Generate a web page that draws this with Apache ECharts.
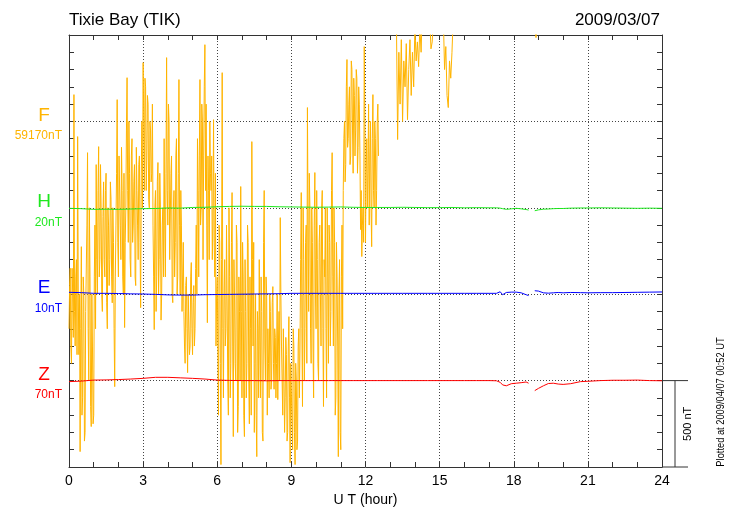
<!DOCTYPE html>
<html><head><meta charset="utf-8">
<script src="https://cdn.jsdelivr.net/npm/echarts@6/dist/echarts.min.js"></script>
<style>html,body{margin:0;padding:0;background:#fff}#c{width:730px;height:520px}</style>
</head><body><div id="c"></div>
<script>
// ---- texts ----
const stationTitle = 'Tixie Bay (TIK)';
const dateLabel = '2009/03/07';
const plotNote = 'Plotted at 2009/04/07 00:52 UT';
const scaleLabel = '500 nT';
const xAxisName = 'U T (hour)';
const compNames = ['F', 'H', 'E', 'Z'];
const compBaseLabels = ['59170nT', '20nT', '10nT', '70nT'];
const compColors = ['#ffb400', '#1ee81e', '#0000ff', '#ff0000'];
// baseline of each component trace, in chart units (nT of the 500 nT scale bar)
const compOffsets = [1500, 1000, 500, 0];

// ---- F trace (chart units; F baseline = 1500), sampled every fStep hours ----
const fStep = 0.05;
const fSeg0Start = 0;
const fSeg0 = [300,650,100,500,1655,200,700,1412,
150,-411,775,-100,500,-300,
400,1319,0,600,-266,200,-200,900,
1250,500,1354,700,1000,400,1150,600,1200,300,900,700,1050,450,800,-35,
900,1626,600,
1300,700,1100,500,307,1000,1753,800,1200,600,1400,900,1250,550,1100,700,1300,
422,1500,1840,1100,1700,1300,1600,1000,1450,1200,
900,295,1100,600,1262,700,1000,500,
1000,1400,600,1869,900,1500,700,1300,451,1100,800,1400,600,1742,500,900,400,
400,100,600,46,500,200,683,150,550,300,
900,1400,600,1742,1000,1500,
1300,1944,1600,335,1100,1500,
1100,700,1510,600,200,
600,-200,800,-486,1782,-100,700,
300,900,-200,600,100,1088,-324,500,0,800,-150,400,
1123,-100,600,-324,400,100,800,-250,300,1383,
200,-300,500,-440,300,700,-100,400,-350,1100,0,500,
300,-100,400,0,544,-50,250,100,-110,400,
943,200,-200,300,-100,150,-300,370,-475,100,-400,200,-486,0,-350,300,
200,1088,-150,700,300,900,
1580,400,1000,100,800,-100,1204,300,700,0,900,200,1100,-150,600,300,1000,100,800,400,
1319,200,800,-100,600,-440,700,-400,900,
1100,1500,1250,1858,1400,1700,1300,1800,1200,1650,1450,1750,1350,1600,
874,718,1000,
1933,800,1400,
1200,900,1500,775,1655,1000,1400,1100,1600];
// F samples half a step after each fSeg0 sample
const fSeg0Mid = [550,200,650,250,400,600,150,500,
500,300,-200,600,-350,400,
900,300,1000,-150,500,-250,600,300,
700,1100,600,1250,500,950,700,1100,450,1000,550,1150,600,1000,300,600,
1200,800,1300,
900,1350,600,1200,800,1450,1100,1500,700,1300,800,1150,600,1350,900,1250,800,
1200,1000,1500,1750,1100,1650,1050,1500,1150,1600,
600,1000,400,1150,500,1200,350,900,
600,900,1200,1100,1600,700,1200,500,1000,600,1300,500,1200,900,1100,400,800,
200,550,300,500,150,600,300,450,200,650,
500,1100,1300,900,1600,700,
1700,1100,900,1300,700,1200,
1300,900,800,1200,500,
200,900,100,700,300,500,200,
900,0,1000,-100,800,200,700,100,900,-300,600,0,
400,800,-200,700,-100,900,0,600,-200,700,
800,100,-200,400,-100,200,600,-300,800,200,600,-200,
100,500,-50,450,100,300,-100,500,200,0,
500,0,300,-300,250,-350,200,-100,100,-250,300,-300,100,-400,200,-100,
700,300,1000,0,800,100,
900,1200,300,1000,200,900,500,1100,100,800,500,1000,300,700,1000,-100,600,900,200,1100,
600,1000,-200,800,200,500,-300,600,300,
1400,1150,1700,1350,1600,1250,1850,1450,1750,1300,1800,1200,1700,1300,
1100,900,800,
1500,1200,1000,
1600,1300,1000,1400,1100,1500,900,1500,1300];
const fSeg1Start = 13.25;
const fSeg1 = [2100,1395,1900,1600,1973,1500,1850,1700,1950,1510,1800,1973,1650,1900,1700,2050,1850,1960,1817,2050,1900,2150];
const fSeg2Start = 14.6;
const fSeg2 = [2100,1920,1960,2100];
const fSeg3Start = 15.15;
const fSeg3 = [2100,1800,1933,1650,1580,1850,1750,1900,2100];
const fSeg4Start = 18.85;
const fSeg4 = [2100,1985,2100];

// ---- H, E, Z traces: deviation (chart units) from their baselines ----
const compHours = [0,0.5,1,1.5,2,2.5,3,3.5,4,4.5,5,5.5,6,6.5,7,7.5,8,8.5,9,9.5,10,10.5,11,11.5,12,12.5,13,13.5,14,14.5,15,15.5,16,16.5,17,
17.3,17.45,17.55,17.7,17.9,18.1,18.3,18.5,18.6,18.7,18.85,19.0,19.2,19.4,19.6,19.8,20.0,20.3,20.7,21,21.5,22,22.5,23,23.5,24];
const hDev = [-3,-5,-9,-8,-9,-7,-5,-4,-1,-2,2,3,6,8,9,8,8,6,5,4,3,4,5,3,2,2,2,3,2,1,1,2,0,1,0,
0,-2,-5,-9,-6,-3,-6,-10,-13,null,-17,-12,-8,-7,-5,-4,-4,-2,-1,-1,0,-1,-2,-3,-2,-3];
const eDev = [11,9,5,5,4,2,1,-1,-4,-5,-5,-3,-2,-1,0,1,2,3,5,5,5,5,5,5,5,5,5,5,5,5,5,5,5,5,5,
5,14,-3,10,12,12,8,-3,-8,null,20,18,8,6,8,10,8,10,9,8,9,9,10,11,12,13];
const zDev = [-6,-3,3,4,6,9,13,19,19,16,13,9,3,1,0,0,-1,0,0,0,0,0,0,0,0,0,0,0,0,0,0,0,0,0,0,
-1,-10,-25,-30,-18,-15,-12,-8,-15,null,-58,-45,-30,-17,-15,-20,-22,-18,-6,-4,0,2,2,3,0,-1];

const fontFam = '"Liberation Sans", Arial, Helvetica, sans-serif';

function seg(start, vals) {
  return vals.map((v, i) => [+(start + i * fStep).toFixed(3), v]);
}
function segWithMid(start, vals, mids) {
  const out = [];
  vals.forEach((v, i) => {
    out.push([+(start + i * fStep).toFixed(4), v]);
    out.push([+(start + (i + 0.5) * fStep).toFixed(4), mids[i]]);
  });
  return out;
}
const fData = [].concat(
  segWithMid(fSeg0Start, fSeg0, fSeg0Mid), [[12.6, '-']],
  seg(fSeg1Start, fSeg1), [[14.4, '-']],
  seg(fSeg2Start, fSeg2), [[14.9, '-']],
  seg(fSeg3Start, fSeg3), [[15.8, '-']],
  seg(fSeg4Start, fSeg4)
);
function compData(dev, off) {
  return compHours.map((h, i) => [h, dev[i] === null ? '-' : off + dev[i]]);
}

const frameColor = '#333';
const gridLine = { show: true, lineStyle: { color: '#444', type: [1, 2], width: 1 } };

function xAx(pos, labels) {
  return {
    type: 'value', min: 0, max: 24, interval: 3, position: pos,
    axisLine: { show: true, onZero: false, lineStyle: { color: frameColor, width: 1 } },
    axisTick: { show: true, inside: true, length: 5, lineStyle: { color: frameColor } },
    minorTick: { show: true, splitNumber: 3, length: 5, lineStyle: { color: frameColor } },
    axisLabel: { show: labels, color: '#000', fontSize: 14, fontFamily: fontFam, margin: 7 },
    splitLine: labels ? gridLine : { show: false },
    name: labels ? xAxisName : '', nameLocation: 'middle', nameGap: 23,
    nameTextStyle: { color: '#000', fontSize: 14, fontFamily: fontFam }
  };
}
function yAx(pos, grid) {
  return {
    type: 'value', min: -500, max: 2000, interval: 500, position: pos,
    axisLine: { show: true, onZero: false, lineStyle: { color: frameColor, width: 1 } },
    axisTick: { show: true, inside: true, length: 5, lineStyle: { color: frameColor } },
    minorTick: { show: true, splitNumber: 5, length: 5, lineStyle: { color: frameColor } },
    axisLabel: { show: false },
    splitLine: grid ? gridLine : { show: false }
  };
}

const chart = echarts.init(document.getElementById('c'), null, { renderer: 'canvas' });
const series = [{
  type: 'line', data: fData, showSymbol: false, symbol: 'none', z: 2,
  lineStyle: { color: compColors[0], width: 1 }, clip: true, animation: false
}];
const devs = [hDev, eDev, zDev];
for (let k = 0; k < 3; k++) {
  series.push({
    type: 'line', data: compData(devs[k], compOffsets[k + 1]), showSymbol: false, symbol: 'none', z: 3,
    lineStyle: { color: compColors[k + 1], width: 1 }, clip: true, animation: false
  });
}

chart.setOption({
  backgroundColor: '#fff',
  animation: false,
  grid: { left: 69, right: 68, top: 35, bottom: 53 },
  title: [
    { text: stationTitle, left: 69, top: 12, padding: 0,
      textStyle: { fontSize: 17, fontWeight: 'normal', color: '#000', fontFamily: fontFam } },
    { text: dateLabel, right: 70, top: 12, padding: 0,
      textStyle: { fontSize: 17, fontWeight: 'normal', color: '#000', fontFamily: fontFam } }
  ],
  xAxis: [xAx('bottom', true), xAx('top', false)],
  yAxis: [yAx('left', true), yAx('right', false)],
  series: series
});

// decorations placed through the chart's own scales
const [xr, y0] = chart.convertToPixel({ gridIndex: 0 }, [24, 0]);
const [xl, yb] = chart.convertToPixel({ gridIndex: 0 }, [0, -500]);
const ext = 26;
const graphics = [
  { type: 'line', shape: { x1: xr, y1: y0, x2: xr + ext, y2: y0 }, style: { stroke: frameColor, lineWidth: 1 }, z: 10 },
  { type: 'line', shape: { x1: xr, y1: yb, x2: xr + ext, y2: yb }, style: { stroke: frameColor, lineWidth: 1 }, z: 10 },
  { type: 'line', shape: { x1: xr + 13, y1: y0, x2: xr + 13, y2: yb }, style: { stroke: frameColor, lineWidth: 1 }, z: 10 },
  { type: 'text', x: xr + 26, y: (y0 + yb) / 2, rotation: Math.PI / 2,
    style: { text: scaleLabel, fontSize: 11, fontFamily: fontFam, fill: '#000', align: 'center', verticalAlign: 'middle' } },
  { type: 'text', x: 721, y: 402, rotation: Math.PI / 2, scaleX: 0.93,
    style: { text: plotNote, fontSize: 10, fontFamily: fontFam, fill: '#000', align: 'center', verticalAlign: 'middle' } }
];
for (let k = 0; k < 4; k++) {
  const py = chart.convertToPixel({ yAxisIndex: 0 }, compOffsets[k]);
  graphics.push({ type: 'text', x: xl - 25, y: py - 6,
    style: { text: compNames[k], fontSize: 19, fontFamily: fontFam, fill: compColors[k], align: 'center', verticalAlign: 'middle' } });
  graphics.push({ type: 'text', x: xl - 7, y: py + 14.5,
    style: { text: compBaseLabels[k], fontSize: 12, fontFamily: fontFam, fill: compColors[k], align: 'right', verticalAlign: 'middle' } });
}
chart.setOption({ graphic: graphics });
</script>
</body></html>
